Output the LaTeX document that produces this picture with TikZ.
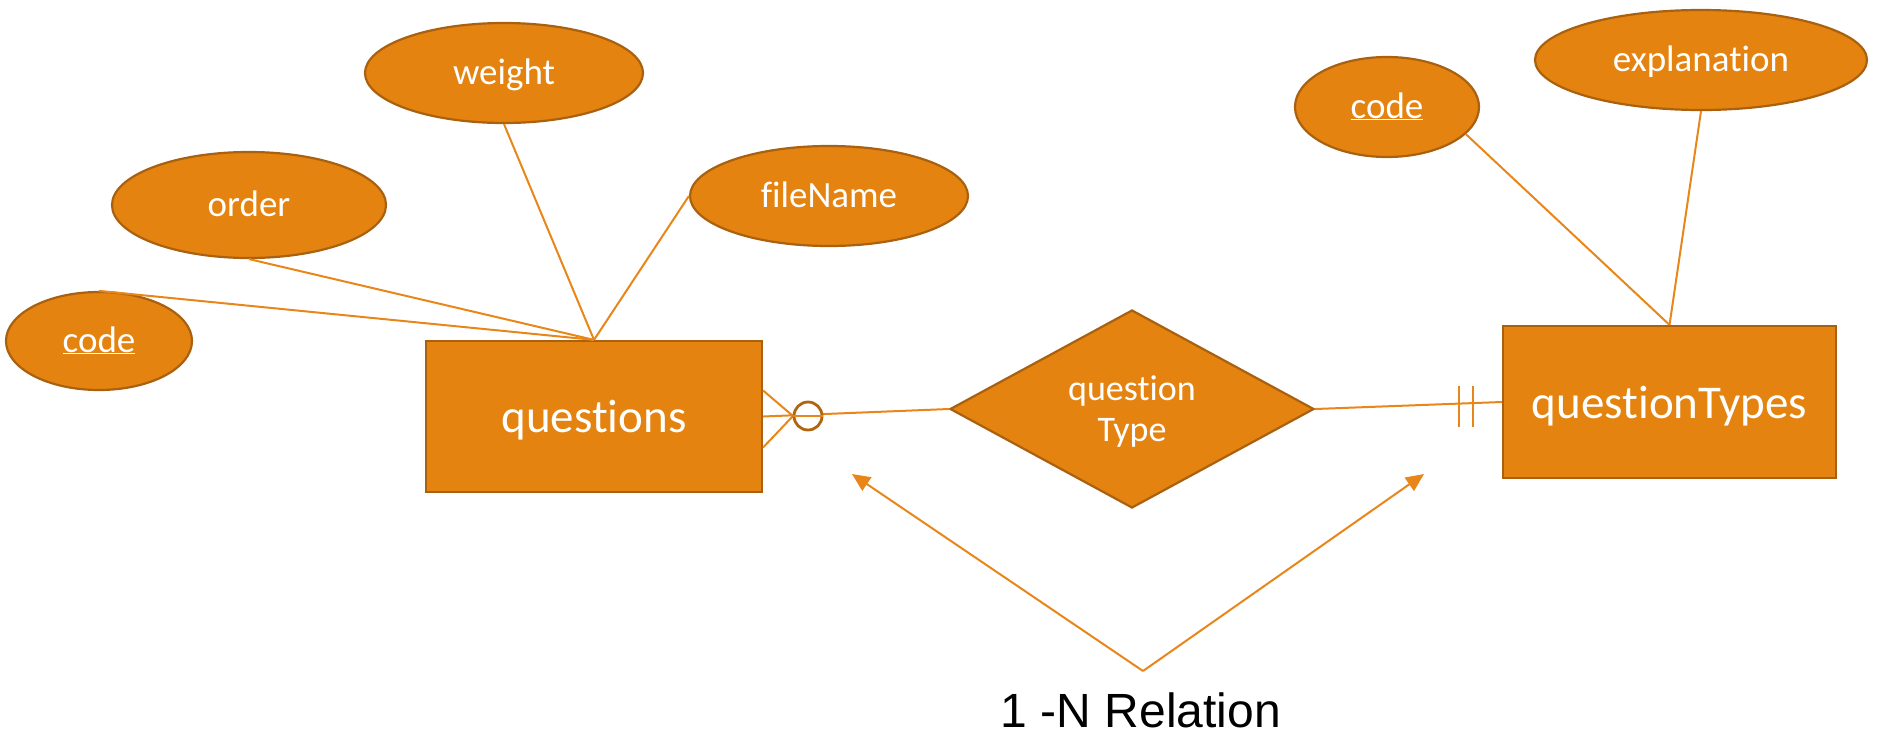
\documentclass[tikz,border=0pt]{standalone}
\usepackage{fontspec}
\setmainfont[Ligatures=NoCommon]{Carlito}
\newfontfamily\labelfont{Liberation Sans}
\usetikzlibrary{shapes.geometric,arrows.meta}
\definecolor{erfill}{HTML}{E4830F}
\definecolor{erborder}{HTML}{A9600F}
\definecolor{erline}{HTML}{E8861A}
\definecolor{ermark}{HTML}{B0650F}

\begin{document}
\begin{tikzpicture}[x=1pt,y=-1pt,
  attr/.style={ellipse, fill=erfill, draw=erborder, line width=2.2pt, text=white,
    inner sep=0pt, font=\fontsize{37}{44}\selectfont, text height=26pt, text depth=4pt},
  entity/.style={rectangle, fill=erfill, draw=erborder, line width=2.2pt, text=white,
    inner sep=0pt, font=\fontsize{47}{56}\selectfont, text height=36pt, text depth=4pt},
  relation/.style={diamond, fill=erfill, draw=erborder, line width=2.2pt, text=white,
    inner sep=0pt, align=center, font=\fontsize{36}{41}\selectfont, text depth=0pt},
  link/.style={draw=erline, line width=2pt},
  keyattr/.style={attr},
]
\useasboundingbox (0,0) rectangle (1878,734);

% entities and relationship
\node[entity, minimum width=336pt, minimum height=151pt] (q) at (594,416.5) {questions};
\node[entity, minimum width=333pt, minimum height=152pt] (qt) at (1669.5,402) {questionTypes};
\node[relation, minimum width=364pt, minimum height=198pt] (rel) at (1132,409) {question\\Type};

% attributes of questions
\node[keyattr, minimum width=186pt, minimum height=98pt] (qcode) at (99,341) {\underline{code}};
\node[attr, minimum width=274pt, minimum height=106pt] (qorder) at (249,205) {order};
\node[attr, minimum width=278pt, minimum height=100pt] (qweight) at (504,73) {weight};
\node[attr, minimum width=278pt, minimum height=100pt] (qfile) at (829,196) {fileName};

% attributes of questionTypes
\node[keyattr, minimum width=184pt, minimum height=100pt] (tcode) at (1387,107) {\underline{code}};
\node[attr, minimum width=332pt, minimum height=100pt] (texpl) at (1701,60) {explanation};

% attribute links
\draw[link] (qcode.north) -- (q.north);
\draw[link] (qorder.south) -- (q.north);
\draw[link] (qweight.south) -- (q.north);
\draw[link] (qfile.west) -- (q.north);
\draw[link] (tcode.-19) -- (qt.north);
\draw[link] (texpl.south) -- (qt.north);

% questions side: zero-or-many
\coordinate (foot) at (793,416);
\draw[link] (q.east) -- (rel.west);
\draw[link] ([yshift=26pt]q.east) -- (foot) -- ([yshift=-31pt]q.east);
\node[circle, draw=ermark, line width=2.8pt, minimum size=28pt, inner sep=0pt, fill=white] (zero) at (808,416) {};
\draw[link] (zero.west) -- (zero.east);

% questionTypes side: exactly one
\draw[link] (rel.east) -- (qt.west);
\coordinate (bar1) at (1459,406);
\coordinate (bar2) at (1473,406);
\draw[link] ([yshift=20pt]bar1) -- ([yshift=-21pt]bar1);
\draw[link] ([yshift=20pt]bar2) -- ([yshift=-21pt]bar2);

% cardinality annotation
\coordinate (apex) at (1143,671);
\coordinate (tipL) at (852,474);
\coordinate (tipR) at (1424,474);
\draw[link, -{Triangle[length=18pt,width=16pt]}] (apex) -- (tipL);
\draw[link, -{Triangle[length=18pt,width=16pt]}] (apex) -- (tipR);
\node[anchor=base, inner sep=0pt, font=\labelfont\fontsize{48}{56}\selectfont] (card) at (1141,727) {1 -N Relation};
\end{tikzpicture}
\end{document}
